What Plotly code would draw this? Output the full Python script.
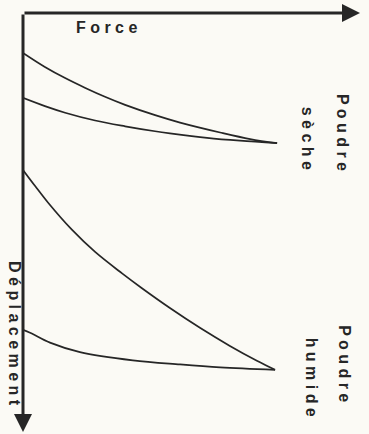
import plotly.graph_objects as go

# Dry powder (Poudre sèche): two branches meeting at the tip
dry_upper_force = [0, 6.5, 12.5, 18.5, 24.5, 30.3, 39.2, 46.6, 58.5, 67.4, 75.4]
dry_upper_disp = [9.7, 13.1, 15.8, 18.2, 20.4, 22.3, 24.8, 26.6, 29.0, 30.6, 31.6]
dry_lower_force = [0, 6.5, 12.5, 21.4, 30.3, 39.2, 43.6, 54.6, 64.4, 75.4]
dry_lower_disp = [20.6, 22.6, 24.2, 26.1, 27.5, 28.7, 29.2, 30.3, 31.0, 31.6]

# Wet powder (Poudre humide)
wet_upper_force = [0, 3.6, 7.4, 14.5, 21.4, 29.4, 35.3, 43.6, 52.5, 61.4, 69.4, 74.8]
wet_upper_disp = [38.1, 42.0, 46.0, 52.6, 58.0, 63.2, 66.8, 71.6, 76.4, 80.8, 84.4, 86.6]
wet_lower_force = [0, 2.1, 8.0, 16.9, 32.6, 46.6, 58.5, 74.8]
wet_lower_disp = [76.9, 77.6, 80.0, 82.3, 84.3, 85.3, 86.0, 86.6]

x_label = "F o r c e"
y_label = "D é p l a c e m e n t"
dry_label = ["P o u d r e", "s è c h e"]
wet_label = ["P o u d r e", "h u m i d e"]

ink = "#262626"
paper = "#fbfaf5"

fig = go.Figure()
for fx, dy in [(dry_upper_force, dry_upper_disp), (dry_lower_force, dry_lower_disp),
               (wet_upper_force, wet_upper_disp), (wet_lower_force, wet_lower_disp)]:
    fig.add_trace(go.Scatter(x=fx, y=dy, mode="lines",
                             line=dict(color=ink, width=1.7, shape="spline", smoothing=1.0),
                             hoverinfo="skip", showlegend=False))

font = dict(family="Liberation Sans, Arial, sans-serif", size=16, color=ink)
bold = lambda s: "<b>" + s + "</b>"

annotations = [
    # axes arrows
    dict(x=100, y=0, ax=0, ay=0, xref="x", yref="y", axref="x", ayref="y", showarrow=True,
         arrowhead=2, arrowsize=1.2, arrowwidth=3, arrowcolor=ink, text=""),
    dict(x=0, y=101.7, ax=0, ay=0, xref="x", yref="y", axref="x", ayref="y", showarrow=True,
         arrowhead=2, arrowsize=1.2, arrowwidth=3, arrowcolor=ink, text=""),
    dict(x=24.9, y=3.4, text=bold(x_label), showarrow=False, font=font, xanchor="center", yanchor="middle"),
    dict(x=-0.027, y=1 - 77.9 / 101.7, xref="paper", yref="paper", text=bold(y_label), showarrow=False,
         font=font, textangle=90, xanchor="center", yanchor="middle"),
    dict(x=95.0, y=28.9, text=bold(dry_label[0]), showarrow=False, font=font, textangle=90),
    dict(x=84.3, y=30.3, text=bold(dry_label[1]), showarrow=False, font=font, textangle=90),
    dict(x=95.5, y=85.2, text=bold(wet_label[0]), showarrow=False, font=font, textangle=90),
    dict(x=85.5, y=88.3, text=bold(wet_label[1]), showarrow=False, font=font, textangle=90),
]

fig.update_layout(
    width=369, height=434,
    margin=dict(l=23, r=9, t=13, b=2),
    paper_bgcolor=paper, plot_bgcolor=paper,
    xaxis=dict(range=[0, 100], visible=False, fixedrange=True),
    yaxis=dict(range=[101.7, 0], visible=False, fixedrange=True),
    annotations=annotations,
    showlegend=False,
)

fig.write_html("out.html", config=dict(displayModeBar=False),
               post_script="document.body.style.margin='0';document.body.style.background='%s';" % paper)
